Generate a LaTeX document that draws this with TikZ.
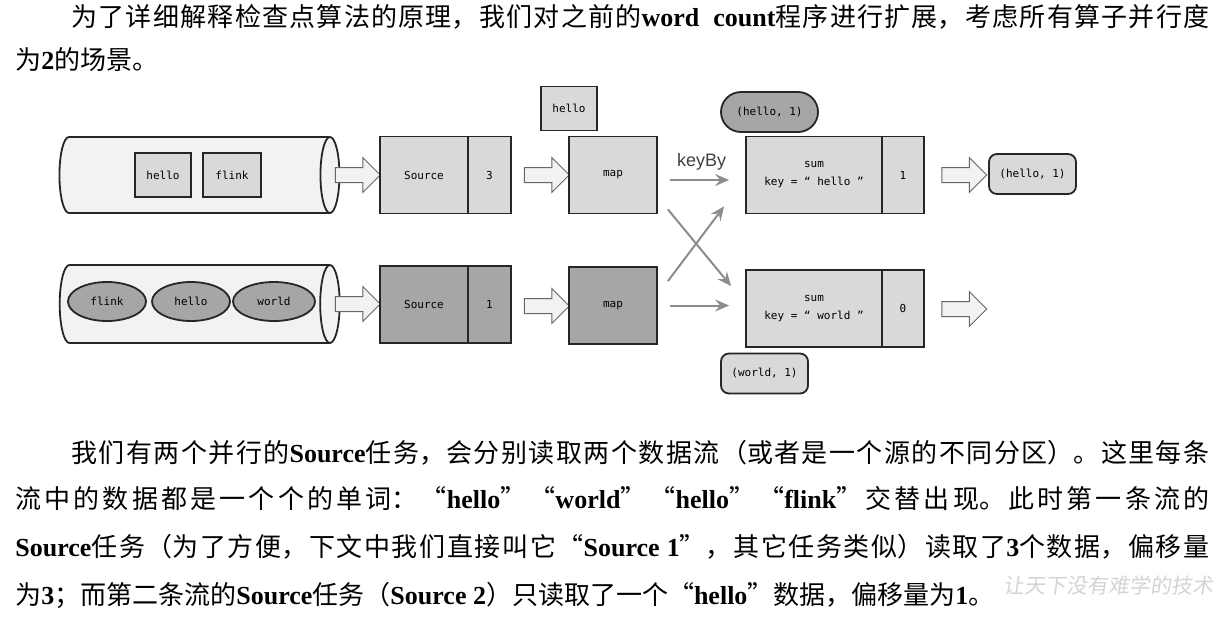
\documentclass[tikz,border=0pt]{standalone}
\usepackage{fontspec}
\setmainfont{Liberation Serif}
\newfontfamily\cjk{Noto Sans CJK SC}
\newfontfamily\markfont[FakeSlant=0.15]{Noto Sans CJK SC}
\newfontfamily\boxfont{DejaVu Sans Mono}
\newfontfamily\labelfont{Liberation Sans}
\usetikzlibrary{shapes,arrows,arrows.meta,positioning,calc}

\XeTeXlinebreaklocale "zh"
\XeTeXlinebreakskip=0pt plus 4pt

\definecolor{lightbox}{HTML}{D9D9D9}
\definecolor{darkbox}{HTML}{A6A6A6}
\definecolor{pipefill}{HTML}{F2F2F2}
\definecolor{linkgray}{HTML}{8C8C8C}
\definecolor{markgray}{HTML}{D4D4D4}
\newcommand{\en}[1]{{\rmfamily\bfseries #1}}

\begin{document}
\begin{tikzpicture}[x=0.5pt, y=-0.5pt,
    para/.style={anchor=west, inner sep=0pt, font=\cjk\fontsize{13}{16}\selectfont},
    full/.style={para, text width=#1, align=justify},
    pipe/.style={cylinder, draw=black!85, line width=0.9pt, fill=pipefill, shape aspect=0.25, minimum height=140pt, minimum width=38pt, inner xsep=0pt, inner ysep=19pt},
    word/.style={draw=black!85, line width=0.9pt, fill=lightbox, minimum width=28pt, minimum height=22pt, inner sep=0pt, font=\boxfont\fontsize{5.5}{7}\selectfont},
    oval/.style={word, ellipse, fill=darkbox, minimum width=39pt, minimum height=19.5pt},
    task/.style={draw=black!85, line width=0.9pt, fill=lightbox, minimum height=38.5pt, inner sep=0pt, align=center, font=\boxfont\fontsize{5.5}{9}\selectfont},
    fat/.style={single arrow, draw=black!60, line width=0.5pt, fill=pipefill, minimum height=22.5pt, single arrow head extend=5pt, inner xsep=0pt, inner ysep=3.5pt},
    pair/.style={word, rounded corners=4pt, minimum width=43.5pt, minimum height=20pt},
    link/.style={-{Stealth[length=7pt, width=6pt, inset=2.5pt]}, draw=linkgray, line width=1pt},
]
\useasboundingbox (0,0) rectangle (1226,622);

% intro text
\node[full=569pt] (p1) at (71,17) {\parfillskip=0pt 为了详细解释检查点算法的原理，我们对之前的\en{word\ \ count}程序进行扩展，考虑所有算子并行度\par};
\node[para] (p2) at (15,60) {为\en{2}的场景。};

% first stream
\node[pipe] (pipeA) at (189.5,175) {};
\node[word] (wA1) at (163,175) {hello};
\node[word, minimum width=29pt] (wA2) at (232,175) {flink};
\node[fat] (fA1) at (354,175) {};
\node[task, minimum width=44pt] (srcA) at (424,175) {Source};
\node[task, minimum width=21.5pt, right=-0.9pt of srcA] (offA) {3};
\node[fat] (fA2) at (543,175) {};
\node[task, minimum width=44pt] (mapA) at (613,175) {map};
\node[word] (recA) at (569,108.5) {hello};
\node[task, minimum width=68pt] (sumA) at (814,175) {sum\\key = “ hello ”};
\node[task, minimum width=21pt, right=-0.9pt of sumA] (cntA) {1};
\node[pair, fill=darkbox, rounded corners=10pt, minimum width=48.5pt] (stA) at (769.5,112) {(hello, 1)};
\node[fat] (fA3) at (960.5,175) {};
\node[pair] (outA) at (1032.5,174) {(hello, 1)};

% second stream
\node[pipe, inner ysep=19.5pt] (pipeB) at (189.5,304) {};
\node[oval] (wB1) at (107,301.5) {flink};
\node[oval] (wB2) at (191,301.5) {hello};
\node[oval, minimum width=41pt] (wB3) at (274,301.5) {world};
\node[fat] (fB1) at (354,304) {};
\node[task, fill=darkbox, minimum width=44pt] (srcB) at (424,304.5) {Source};
\node[task, fill=darkbox, minimum width=21.5pt, right=-0.9pt of srcB] (offB) {1};
\node[fat] (fB2) at (543,306) {};
\node[task, fill=darkbox, minimum width=44pt] (mapB) at (613,305.5) {map};
\node[task, minimum width=68pt] (sumB) at (814,308.5) {sum\\key = “ world ”};
\node[task, minimum width=21pt, right=-0.9pt of sumB] (cntB) {0};
\node[fat] (fB3) at (960.5,309) {};
\node[pair] (stB) at (764.5,373.5) {(world, 1)};

% keyBy shuffle
\draw[link, shorten <=6pt, shorten >=8pt] ([yshift=-2.5pt]mapA.east) -- node[above=1pt, font=\labelfont\fontsize{9}{10}\selectfont, text=black!75] (kb) {keyBy} ([yshift=-2.5pt]sumA.west);
\draw[link, shorten <=6pt, shorten >=8pt] (mapB.east) -- (mapB.east -| sumB.west);
\draw[link] ($(mapB.north east)+(10,15)$) -- ($(sumA.south west)+(-21,-8)$);
\draw[link] ($(mapA.south east)+(10,-5)$) -- ($(sumB.north west)+(-14,17)$);

% explanation text
\node[full=569pt] (p3) at (71,453) {\parfillskip=0pt 我们有两个并行的\en{Source}任务，会分别读取两个数据流（或者是一个源的不同分区）。这里每条\par};
\node[full=597pt] (p4) at (15,499) {\parfillskip=0pt 流中的数据都是一个个的单词：“\en{hello}”“\en{world}”“\en{hello}”“\en{flink}”交替出现。此时第一条流的\par};
\node[full=597pt] (p5) at (15,547) {\parfillskip=0pt \en{Source}任务（为了方便，下文中我们直接叫它“\en{Source 1}”，其它任务类似）读取了\en{3}个数据，偏移量\par};
\node[para] (p6) at (15,595) {为\en{3}；而第二条流的\en{Source}任务（\en{Source 2}）只读取了一个“\en{hello}”数据，偏移量为\en{1}。};
\node[para, font=\markfont\fontsize{10.5}{12}\selectfont, text=markgray, right=4pt of p6.east, yshift=5pt] (mark) {让天下没有难学的技术};
\end{tikzpicture}
\end{document}
